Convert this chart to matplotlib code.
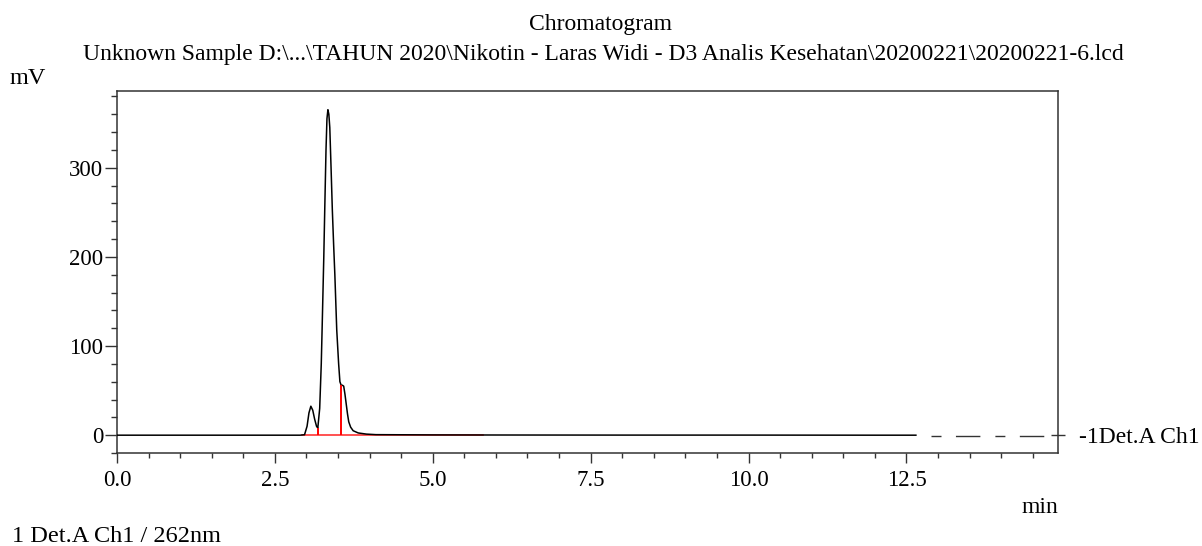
import matplotlib
matplotlib.use('Agg')
import matplotlib.pyplot as plt
from matplotlib.ticker import MultipleLocator

plt.rcParams['font.family'] = ['Liberation Serif', 'DejaVu Serif']

# chromatogram trace (min, mV)
time = [0.0, 0.35, 1.0, 2.0, 2.9, 2.97, 3.01, 3.04, 3.07, 3.10, 3.13, 3.16,
        3.18, 3.21, 3.235, 3.25, 3.275, 3.29, 3.31, 3.325, 3.34, 3.355, 3.37,
        3.39, 3.41, 3.43, 3.45, 3.48, 3.51, 3.53, 3.55, 3.57, 3.59, 3.61,
        3.63, 3.65, 3.67, 3.70, 3.74, 3.82, 3.95, 4.1, 5.0, 6.0, 8.0, 10.0,
        12.0, 12.65]
signal = [0.0, 0.0, 0.0, 0.0, 0.0, 0.5, 10, 25, 32.5, 28, 18, 10,
          8, 30, 80, 124, 200, 253, 320, 355, 365, 360, 345,
          300, 253, 215, 180, 118, 80, 60, 56, 56, 55, 46,
          35, 24, 15, 9, 5, 2.5, 1.2, 0.6, 0.3, 0.2, 0.1, 0.1,
          0.0, 0.0]

# trace after the end of acquisition (dashed)
tail_time = [12.65, 14.9]
tail_signal = [-0.5, -0.5]

# integration marks
base_start, base_end = 2.93, 5.8
drop_time = [3.18, 3.54]
drop_height = [8, 56]

fig = plt.figure(figsize=(12.02, 5.46), dpi=100)
ax = fig.add_axes([0.0973, 0.1703, 0.7829, 0.663])

ax.plot(time, signal, color='black', lw=1.1, zorder=3)
ax.plot(tail_time, tail_signal, color='#333333', lw=1.0,
        linestyle=(35.2, (7.2, 10.4, 17.6, 10.8)))
ax.plot([base_start, base_end], [0, 0], color='red', lw=1.2, alpha=0.8, zorder=2)
ax.vlines(drop_time, 0, drop_height, color='red', lw=1.4, zorder=4)

ax.set_xlim(0, 14.9)
ax.set_ylim(-20, 386)
ax.xaxis.set_major_locator(MultipleLocator(2.5))
ax.xaxis.set_minor_locator(MultipleLocator(0.5))
ax.yaxis.set_major_locator(MultipleLocator(100))
ax.yaxis.set_minor_locator(MultipleLocator(20))
ax.xaxis.set_major_formatter(lambda v, p: f'{v:.1f}')
ax.yaxis.set_major_formatter(lambda v, p: f'{v:.0f}')

ax.tick_params(axis='x', which='major', direction='out', length=7, width=1.0,
               labelsize=16.5, pad=5, color='#333333')
ax.tick_params(axis='x', which='minor', direction='out', length=3.6, width=1.0,
               color='#333333')
ax.tick_params(axis='y', which='major', direction='out', length=9, width=1.0,
               labelsize=16.5, pad=1, color='#333333')
ax.tick_params(axis='y', which='minor', direction='out', length=4.3, width=1.0,
               color='#333333')
for s in ax.spines.values():
    s.set_color('#333333')
    s.set_linewidth(1.1)

sec = ax.secondary_yaxis('right')
sec.set_yticks([0], labels=['-1Det.A Ch1'])
sec.tick_params(direction='inout', length=10, width=1.0, labelsize=17, pad=10,
                color='#333333')
sec.spines['right'].set_visible(False)

fig.text(0.5, 0.955, 'Chromatogram', ha='center', va='center', fontsize=17)
fig.text(0.502, 0.9, 'Unknown Sample D:\\...\\TAHUN 2020\\Nikotin - Laras Widi - '
         'D3 Analis Kesehatan\\20200221\\20200221-6.lcd',
         ha='center', va='center', fontsize=17)
fig.text(0.008, 0.856, 'mV', ha='left', va='center', fontsize=17.5)
fig.text(0.88, 0.07, 'min', ha='right', va='center', fontsize=17)
fig.text(0.01, 0.017, '1 Det.A Ch1 / 262nm', ha='left', va='center', fontsize=17.5)

fig.savefig('out.png', dpi=100)
